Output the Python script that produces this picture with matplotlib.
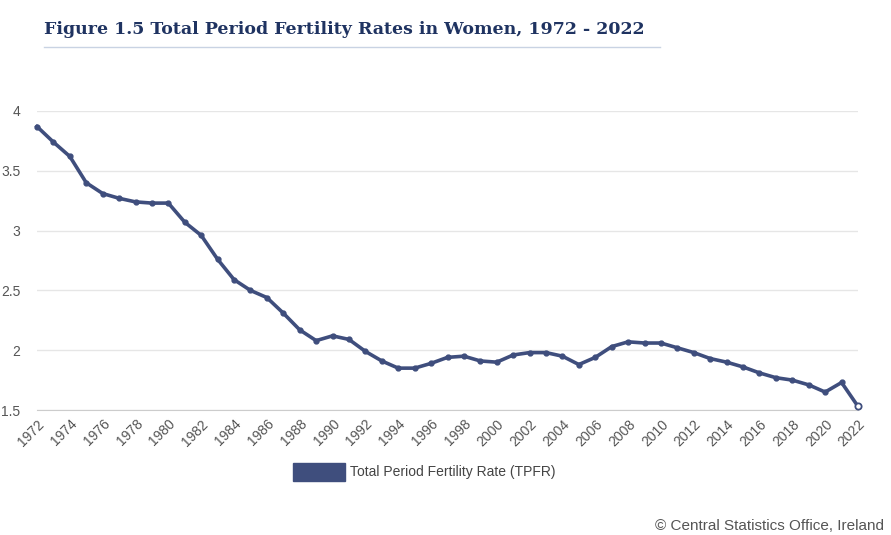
import matplotlib
matplotlib.use("Agg")
import matplotlib.pyplot as plt
from matplotlib.patches import Rectangle
from matplotlib.lines import Line2D

plt.rcParams['font.family'] = ['Liberation Sans', 'DejaVu Sans']

years = list(range(1972, 2023))
tpfr = [3.87,3.74,3.62,3.40,3.31,3.27,3.24,3.23,3.23,3.07,2.96,2.76,2.59,2.50,2.44,2.31,2.17,2.08,2.12,2.09,
        1.99,1.91,1.85,1.85,1.89,1.94,1.95,1.91,1.90,1.96,1.98,1.98,1.95,1.88,1.94,2.03,2.07,2.06,2.06,2.02,
        1.98,1.93,1.90,1.86,1.81,1.77,1.75,1.71,1.65,1.73,1.53]
yticks = [1.5, 2, 2.5, 3, 3.5, 4]
ytick_labels = ["1.5", "2", "2.5", "3", "3.5", "4"]
color = "#3f4e7d"

fig = plt.figure(figsize=(8.91, 5.35), dpi=100)
W, H = 891, 535
ax = fig.add_axes([37/W, 1-410/H, (858-37)/W, (410-111)/H])
ax.plot(years, tpfr, color=color, lw=2.6, marker="o", ms=3.5, zorder=3, clip_on=False)
ax.plot(years[-1], tpfr[-1], marker="o", ms=4.5, mfc="white", mec=color, mew=1.3, zorder=4, clip_on=False)
ax.set_xlim(1972, 2022)
ax.set_ylim(1.5, 4)
ax.set_yticks(yticks)
ax.set_yticklabels(ytick_labels)
ax.set_xticks(years[::2])
ax.set_xticklabels([str(y) for y in years[::2]], rotation=45, ha="right", rotation_mode="anchor")
ax.grid(axis="y", color="#e6e6e6", lw=1)
for s in ["top", "right", "left"]:
    ax.spines[s].set_visible(False)
ax.spines["bottom"].set_color("#cccccc")
ax.tick_params(axis="y", length=0, labelsize=10, labelcolor="#555555", pad=12)
ax.tick_params(axis="x", length=0, labelsize=10, labelcolor="#555555", pad=5)

fig.text(44/W, 1-30/H, "Figure 1.5 Total Period Fertility Rates in Women, 1972 - 2022",
         fontsize=12.5, fontweight="bold", family="DejaVu Serif", color="#1f3361", va="center")
fig.add_artist(Line2D([44/W, 660/W], [1-47/H, 1-47/H], color="#c9d3e3", lw=1))
fig.add_artist(Rectangle((293/W, 1-481/H), 52/W, 18/H, color=color))
fig.text(350/W, 1-472/H, "Total Period Fertility Rate (TPFR)", fontsize=10, color="#444444", va="center")
fig.text(884/W, 1-526/H, "© Central Statistics Office, Ireland", fontsize=11, color="#555555", ha="right", va="center")
fig.savefig("out.png", dpi=100)
